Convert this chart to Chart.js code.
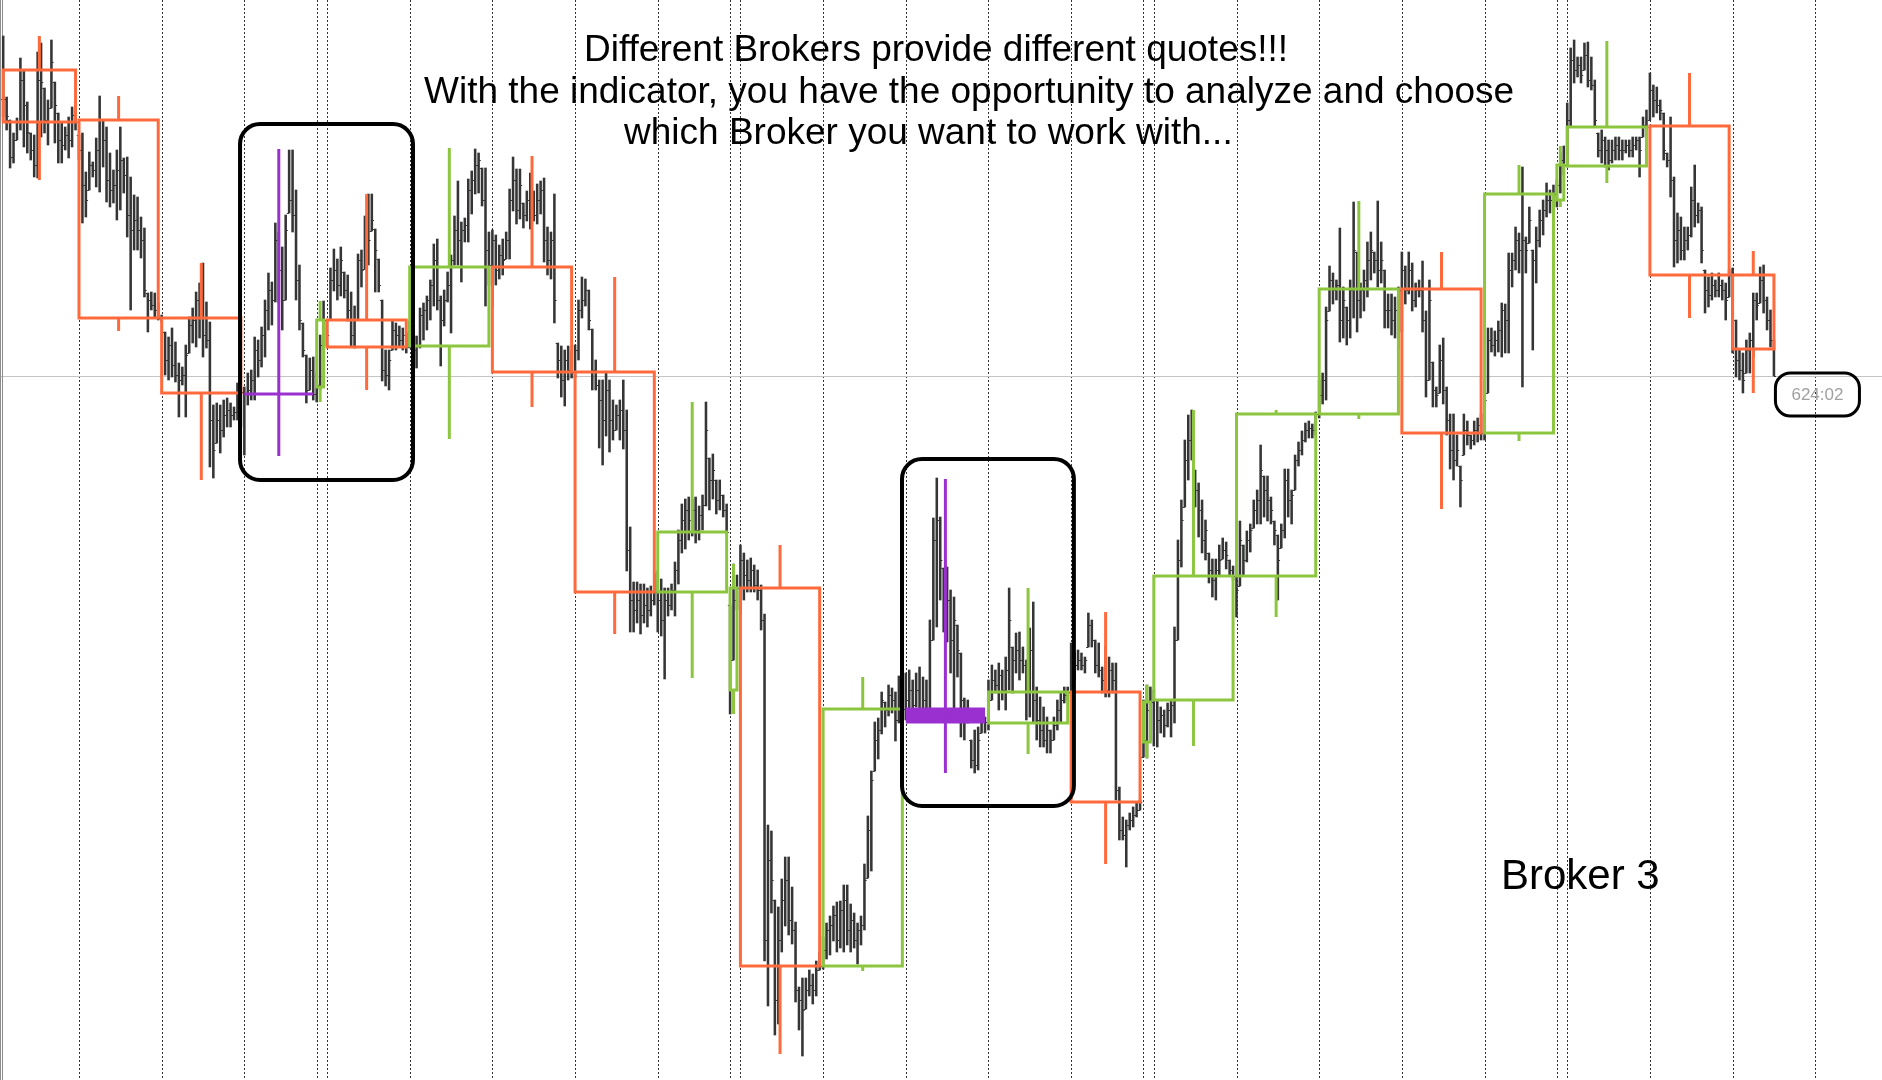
<!DOCTYPE html>
<html>
<head>
<meta charset="utf-8">
<title>Broker 3</title>
<script src="https://cdn.jsdelivr.net/npm/chart.js@4.4.1/dist/chart.umd.min.js"></script>
<style>
  html, body { margin: 0; padding: 0; background: #fff; overflow: hidden; }
  #wrap { width: 1882px; height: 1080px; }
</style>
</head>
<body>
<div id="wrap"><canvas id="chart" width="1882" height="1080"></canvas></div>
<script>
// ========================
// H1 BARS (price points, one line per day)
// ========================

const firstBar = 2;

const highs = [
  1964,1903,1880,1867,1882,1942,1930,1898,1867,1865,1948,1957,1912,1900,1960,1918,1887,1877,1873,1883,1893,1887,
  1865,1867,1828,1848,1838,1862,1904,1880,1873,1847,1830,1850,1873,1842,1843,1823,1805,1803,1783,1772,1707,1708,1707,1697,
  1685,1668,1663,1672,1658,1637,1633,1655,1683,1692,1708,1717,1737,1698,1678,1595,1597,1595,1600,1602,1597,1593,1617,1613,
  1613,1627,1630,1663,1660,1673,1700,1727,1718,1777,1768,1753,1785,1850,1850,1810,1735,1677,1645,1642,1643,
  1628,1665,1699,
  1680,1732,1751,1741,1753,1728,1725,1708,1694,1746,1750,1784,1806,1806,1771,1741,1700,1650,1650,1679,1677,1674,1672,1667,
  1679,1667,1664,1692,1697,1704,1720,1756,1761,1704,1710,1728,1745,1784,1819,1778,1782,1821,1829,1851,1847,1832,1832,1768,
  1770,1765,1755,1761,1768,1811,1843,1831,1831,1797,1809,1827,1809,1816,1819,1822,1773,1768,1806,1657,1654,1650,1654,1649,
  1655,1700,1723,1721,1710,1671,1640,1620,1620,1627,1620,1600,1595,1600,1620,1590,1473,1418,1418,1416,1416,1412,1414,1427,
  1429,1421,1412,1412,1416,1438,1470,1496,1501,1503,1501,1503,1494,1505,1598,1542,1546,1520,1520,1505,1496,
  1395,1436,1425,
  1455,1447,1440,1442,1435,1430,1415,1386,1175,1169,1100,1093,1121,1143,1143,1113,1078,1013,1022,1022,1030,1026,1039,1048,
  1063,1077,1084,1094,1098,1099,1115,1115,1096,1087,1077,1084,1136,1184,1229,1278,1282,1308,1298,1315,1312,1308,1324,1319,
  1327,1330,1320,1327,1333,1323,1320,1380,1482,1522,1483,1432,1433,1410,1403,1375,1347,1302,1300,1260,1270,1273,1287,1283,
  1320,1335,1330,1337,1330,1343,1412,1353,1367,1368,1353,1340,1372,1398,1313,1303,1293,1283,1270,1283,1300,1307,1313,1313,
  1357,1347,1350,1347,1343,1387,1380,1360,1357,1333,1353,1343,1337,1337,1213,1183,1180,1187,1193,1197,1200,
  1300,1315,1313,
  1310,1300,1293,1290,1297,1300,1373,1460,1500,1560,1585,1590,1530,1517,1500,1480,1447,1441,1441,1455,1462,1458,1440,1434,
  1424,1479,1455,1469,1476,1500,1510,1555,1524,1524,1503,1479,1465,1476,1531,1531,1510,1545,1558,1569,1577,1579,1576,1588,
  1620,1627,1693,1734,1727,1720,1772,1713,1693,1720,1798,1748,1717,1730,1758,1768,1748,1799,1758,1730,1706,1706,1703,1713,
  1748,1734,1748,1737,1717,1720,1739,1689,1720,1638,1613,1655,1662,1613,1586,1586,1565,1534,1586,1579,1565,1579,1582,1586,
  1620,1672,1672,1669,1679,1697,1696,1747,1747,1773,1767,1833,1763,1793,1750,1773,1790,1800,1817,1810,1815,
  1820,1847,1854,
  1897,1952,1960,1943,1943,1957,1958,1943,1920,1867,1870,1863,1860,1860,1863,1863,1860,1860,1860,1863,1863,1863,1883,1890,
  1927,1915,1913,1900,1887,1847,1883,1823,1787,1783,1773,1773,1813,1835,1797,1793,1730,1723,1727,1720,1727,1720,1717,1730,
  1732,1680,1650,1647,1660,1667,1707,1707,1733,1735,1703,1690,1660
];

const lows = [
  1883,1870,1832,1837,1860,1870,1853,1847,1840,1823,1822,1863,1867,1855,1892,1857,1837,1837,1850,1842,1853,1870,
  1840,1777,1783,1810,1823,1813,1808,1833,1798,1793,1797,1780,1790,1807,1763,1690,1750,1750,1742,1703,1668,1690,1683,1680,
  1678,1625,1620,1623,1618,1583,1615,1583,1647,1657,1653,1662,1643,1652,1533,1522,1557,1547,1563,1573,1573,1580,1580,1573,
  1545,1595,1600,1600,1623,1633,1643,1670,1675,1698,1697,1670,1700,1787,1768,1700,1670,1643,1597,1610,1600,
  1598,1610,1650,
  1654,1680,1709,1700,1704,1702,1679,1654,1652,1680,1713,1731,1735,1769,1708,1708,1619,1614,1610,1650,1650,1654,1650,1647,
  1652,1599,1632,1652,1660,1670,1680,1694,1690,1634,1674,1698,1667,1735,1735,1718,1758,1758,1786,1806,1807,1794,1694,1715,
  1694,1715,1721,1725,1741,1741,1789,1776,1781,1772,1779,1771,1779,1776,1786,1738,1725,1721,1677,1622,1603,1594,1620,1622,
  1622,1640,1682,1694,1670,1610,1610,1552,1535,1564,1548,1560,1570,1560,1551,1429,1368,1368,1377,1366,1377,1373,1384,1395,
  1368,1364,1321,1384,1390,1384,1416,1447,1451,1460,1464,1457,1460,1470,1494,1490,1501,1486,1490,1483,1466,
  1286,1340,1390,
  1386,1400,1408,1408,1408,1400,1370,1039,994,1087,965,976,1048,1074,1065,1056,998,970,944,991,1004,996,1004,1030,
  1031,1041,1045,1059,1048,1052,1048,1055,1048,1052,1036,1055,1070,1122,1129,1229,1241,1266,1273,1284,1287,1259,1277,1291,
  1280,1283,1283,1293,1280,1280,1278,1280,1360,1373,1400,1368,1358,1327,1283,1323,1263,1260,1277,1232,1227,1230,1267,1267,
  1270,1300,1307,1290,1300,1290,1310,1307,1327,1320,1327,1280,1283,1277,1260,1253,1253,1247,1247,1260,1270,1277,1297,1300,
  1305,1320,1330,1330,1327,1353,1353,1327,1323,1307,1303,1303,1307,1200,1160,1160,1133,1170,1173,1183,1190,
  1243,1242,1260,
  1254,1253,1267,1263,1273,1263,1277,1360,1433,1493,1520,1540,1493,1463,1447,1440,1417,1403,1400,1424,1441,1431,1424,1420,
  1383,1414,1424,1438,1448,1472,1476,1476,1483,1479,1476,1455,1400,1452,1462,1483,1476,1510,1534,1545,1558,1562,1562,1565,
  1582,1596,1600,1689,1696,1700,1658,1662,1655,1662,1682,1668,1682,1689,1703,1720,1727,1713,1717,1672,1672,1665,1662,1651,
  1668,1696,1706,1689,1693,1703,1668,1603,1620,1593,1593,1607,1596,1565,1531,1520,1534,1493,1545,1555,1551,1555,1558,1560,
  1560,1607,1648,1644,1648,1643,1647,1647,1713,1730,1727,1613,1727,1757,1650,1717,1753,1765,1783,1787,1790,
  1793,1807,1825,
  1833,1873,1917,1923,1917,1930,1913,1910,1873,1843,1837,1833,1830,1837,1840,1840,1840,1847,1843,1843,1850,1823,1863,1870,
  1880,1883,1887,1880,1840,1833,1803,1733,1737,1740,1740,1750,1763,1773,1777,1737,1687,1693,1700,1703,1703,1700,1680,1703,
  1647,1623,1620,1607,1627,1627,1643,1680,1697,1687,1670,1653,1624
];

const closes = [
  1901,1884,1843,1860,1878,1920,1895,1868,1850,1835,1920,1918,1880,1892,1938,1895,1860,1855,1865,1860,1885,1878,
  1850,1815,1800,1835,1830,1850,1880,1860,1820,1810,1815,1830,1840,1825,1785,1770,1780,1770,1760,1710,1700,1695,1690,1682,
  1682,1640,1655,1635,1625,1620,1625,1645,1675,1680,1700,1690,1665,1660,1580,1550,1580,1570,1585,1590,1585,1588,1600,1608,
  1606,1610,1620,1650,1640,1665,1690,1710,1700,1760,1730,1700,1770,1800,1785,1720,1680,1650,1610,1630,1606,
  1615,1655,1680,
  1665,1720,1730,1715,1740,1710,1690,1665,1680,1740,1730,1770,1760,1780,1750,1715,1630,1625,1640,1670,1665,1660,1665,1653,
  1660,1650,1655,1685,1690,1700,1715,1740,1700,1680,1700,1715,1740,1770,1760,1770,1775,1810,1820,1835,1840,1800,1750,1735,
  1760,1730,1745,1740,1760,1800,1820,1790,1815,1785,1800,1810,1785,1800,1810,1760,1740,1760,1700,1640,1620,1640,1630,1628,
  1650,1690,1700,1710,1680,1630,1615,1600,1580,1610,1580,1570,1585,1590,1570,1450,1400,1390,1400,1385,1395,1390,1400,1408,
  1400,1380,1400,1395,1410,1430,1460,1480,1490,1480,1490,1470,1485,1495,1570,1520,1530,1500,1505,1490,1468,
  1340,1400,1412,
  1440,1425,1420,1430,1415,1410,1380,1060,1140,1120,1000,1060,1100,1120,1080,1070,1010,1000,990,1010,1015,1010,1030,1034,
  1050,1070,1075,1085,1060,1090,1100,1070,1080,1060,1070,1075,1120,1170,1220,1260,1270,1300,1290,1305,1300,1280,1310,1291,
  1300,1310,1295,1310,1290,1300,1285,1360,1460,1480,1440,1420,1400,1360,1380,1350,1300,1280,1290,1240,1235,1260,1280,1278,
  1300,1320,1315,1325,1310,1330,1380,1340,1350,1340,1335,1310,1350,1300,1280,1270,1260,1270,1260,1275,1290,1300,1305,1308,
  1340,1335,1340,1335,1340,1375,1360,1335,1330,1320,1310,1330,1320,1210,1170,1165,1175,1180,1185,1190,1198,
  1260,1290,1298,
  1300,1280,1285,1275,1290,1295,1360,1440,1480,1540,1560,1550,1510,1490,1460,1470,1430,1420,1430,1440,1450,1445,1430,1424,
  1410,1460,1440,1460,1470,1490,1500,1530,1510,1500,1490,1470,1440,1470,1520,1500,1505,1540,1550,1560,1570,1572,1570,1586,
  1605,1620,1680,1720,1710,1715,1680,1700,1680,1710,1750,1700,1710,1720,1740,1750,1740,1730,1740,1690,1690,1680,1690,1710,
  1730,1710,1730,1700,1710,1710,1680,1620,1700,1610,1605,1640,1610,1580,1550,1540,1550,1520,1570,1565,1560,1570,1575,1567,
  1600,1660,1655,1660,1670,1690,1680,1730,1740,1760,1750,1760,1750,1780,1740,1760,1780,1790,1800,1800,1806,
  1815,1840,1835,
  1880,1940,1930,1935,1925,1945,1920,1915,1880,1850,1860,1850,1840,1850,1855,1850,1850,1855,1850,1855,1860,1850,1875,1873,
  1910,1900,1895,1890,1850,1840,1820,1760,1770,1750,1760,1765,1800,1785,1790,1750,1710,1705,1715,1710,1715,1710,1700,1725,
  1680,1640,1630,1620,1650,1660,1700,1695,1720,1700,1680,1660,1624
];

// ========================
// DAILY CANDLES (indicator)
// ========================

const dayStart = [2, 24, 48, 72, 93, 96, 120, 144, 168, 192, 213, 216, 240, 264, 288, 312, 333, 336, 360, 384, 408, 432, 453, 456, 480, 504];
const dayOpen  = [1930, 1880, 1682, 1606, 1613, 1680, 1654, 1733, 1628, 1408, 1310, 1412, 1034, 1291, 1277, 1308, 1258, 1300, 1424, 1586, 1711, 1567, 1800, 1834, 1874, 1725];
const dayHigh  = [1964, 1904, 1737, 1851, 1699, 1806, 1852, 1844, 1723, 1598, 1436, 1455, 1323, 1521, 1412, 1388, 1315, 1590, 1590, 1799, 1748, 1835, 1854, 1959, 1927, 1749];
const dayLow   = [1820, 1669, 1520, 1544, 1598, 1610, 1561, 1593, 1366, 1322, 1286, 946, 1029, 1227, 1246, 1136, 1242, 1254, 1383, 1581, 1491, 1559, 1793, 1817, 1682, 1607];
const dayClose = [1878, 1682, 1607, 1606, 1680, 1653, 1733, 1628, 1408, 1468, 1412, 1034, 1291, 1278, 1308, 1198, 1298, 1424, 1586, 1711, 1567, 1806, 1835, 1873, 1725, 1651];
const nextDayStart = 528;

const bidPrice = 1624;
const timerText = '624:02';
const titleLines = [
  'Different Brokers provide different quotes!!!',
  'With the indicator, you have the opportunity to analyze and choose',
  'which Broker you want to work with...'
];
const brokerName = 'Broker 3';

// ========================
// STYLE
// ========================

const BAR_COLOR = '#353535';
const BULL = '#8cc63f';
const BEAR = '#ff6a3d';
const DOJI = '#9b30d0';

// highlighted zones: bar from, bar to, price top, price bottom
const zones = [
  [70.75, 120.95, 1876, 1520],
  [262.9, 312.8, 1541, 1194]
];

function roundRectPath(ctx, x, y, w, h, r) {
  ctx.beginPath();
  ctx.moveTo(x + r, y);
  ctx.lineTo(x + w - r, y);
  ctx.arcTo(x + w, y, x + w, y + r, r);
  ctx.lineTo(x + w, y + h - r);
  ctx.arcTo(x + w, y + h, x + w - r, y + h, r);
  ctx.lineTo(x + r, y + h);
  ctx.arcTo(x, y + h, x, y + h - r, r);
  ctx.lineTo(x, y + r);
  ctx.arcTo(x, y, x + r, y, r);
  ctx.closePath();
}

function vline(ctx, px, y0, y1) {
  ctx.beginPath();
  ctx.moveTo(px, y0);
  ctx.lineTo(px, y1);
  ctx.stroke();
}

const overlay = {
  id: 'overlay',
  beforeDatasetsDraw(chart) {
    const { ctx, chartArea, scales: { x, y } } = chart;
    ctx.save();

    // day separators
    ctx.strokeStyle = '#333';
    ctx.lineWidth = 1;
    ctx.setLineDash([2, 2]);
    dayStart.slice(1).concat(nextDayStart).forEach(b => {
      const px = Math.round(x.getPixelForValue(b)) + 0.5;
      vline(ctx, px, chartArea.top, chartArea.bottom);
    });
    ctx.setLineDash([]);

    // bid line
    ctx.strokeStyle = '#c4c4c4';
    const by = Math.round(y.getPixelForValue(bidPrice)) + 0.5;
    ctx.beginPath();
    ctx.moveTo(chartArea.left, by);
    ctx.lineTo(chartArea.right, by);
    ctx.stroke();

    // left frame
    ctx.fillStyle = '#8c8c8c';
    ctx.fillRect(chartArea.left, chartArea.top, 1, chartArea.bottom - chartArea.top);
    ctx.fillRect(chartArea.left + 2, chartArea.top, 1, chartArea.bottom - chartArea.top);
    ctx.restore();
  },

  afterDatasetsDraw(chart) {
    const { ctx, scales: { x, y } } = chart;
    ctx.save();

    // open / close ticks of the H1 bars
    ctx.strokeStyle = BAR_COLOR;
    ctx.lineWidth = 1;
    ctx.beginPath();
    closes.forEach((c, i) => {
      const px = x.getPixelForValue(firstBar + i);
      let o = i ? closes[i - 1] : c;
      o = Math.min(highs[i], Math.max(lows[i], o));
      const oy = Math.round(y.getPixelForValue(o)) + 0.5;
      const cy = Math.round(y.getPixelForValue(c)) + 0.5;
      ctx.moveTo(px - 2.2, oy); ctx.lineTo(px, oy);
      ctx.moveTo(px, cy); ctx.lineTo(px + 2.2, cy);
    });
    ctx.stroke();

    // daily candles
    const lastBar = firstBar + highs.length - 1;
    ctx.lineWidth = 3;
    dayStart.forEach((s, i) => {
      const e = i < dayStart.length - 1 ? dayStart[i + 1] - 1 : lastBar;
      const x0 = x.getPixelForValue(s);
      const x1 = x.getPixelForValue(e);
      const xm = (x0 + x1) / 2;
      const o = dayOpen[i], c = dayClose[i], h = dayHigh[i], l = dayLow[i];
      const top = y.getPixelForValue(Math.max(o, c));
      const bot = y.getPixelForValue(Math.min(o, c));
      const hy = y.getPixelForValue(h);
      const ly = y.getPixelForValue(l);
      const doji = Math.abs(o - c) < 0.08 * (h - l);
      const col = doji ? DOJI : (c > o ? BULL : BEAR);
      ctx.strokeStyle = col;
      ctx.fillStyle = col;
      if (doji) {
        ctx.fillRect(x0, top - 1.5, x1 - x0, bot - top + 3);
        vline(ctx, xm, hy, ly);
      } else {
        ctx.strokeRect(x0, top, x1 - x0, bot - top);
        vline(ctx, xm, hy, top);
        vline(ctx, xm, bot, ly);
      }
    });

    // highlighted zones
    ctx.strokeStyle = '#000';
    ctx.lineWidth = 4;
    zones.forEach(([b0, b1, p0, p1]) => {
      const l = x.getPixelForValue(b0), r = x.getPixelForValue(b1);
      const t = y.getPixelForValue(p0), b = y.getPixelForValue(p1);
      roundRectPath(ctx, l, t, r - l, b - t, 20);
      ctx.stroke();
    });

    // timer label next to the last bar
    const lx = x.getPixelForValue(lastBar) + 1.5;
    const ly = y.getPixelForValue(bidPrice) - 3;
    ctx.lineWidth = 3;
    roundRectPath(ctx, lx, ly, 84, 43, 15);
    ctx.stroke();
    ctx.fillStyle = '#a0a0a0';
    ctx.font = '17px "Liberation Sans", Arial, sans-serif';
    ctx.textAlign = 'center';
    ctx.textBaseline = 'middle';
    ctx.fillText(timerText, lx + 42, ly + 22);
    ctx.restore();
  },

  afterDraw(chart) {
    const { ctx } = chart;
    ctx.save();
    ctx.fillStyle = '#000';
    ctx.textAlign = 'left';
    ctx.textBaseline = 'alphabetic';
    ctx.font = '37px "Liberation Sans", Arial, sans-serif';
    const lefts = [584, 424, 624];
    const bases = [61, 103, 144];
    titleLines.forEach((t, i) => ctx.fillText(t, lefts[i], bases[i]));
    ctx.font = '42px "Liberation Sans", Arial, sans-serif';
    ctx.fillText(brokerName, 1501, 889);
    ctx.restore();
  }
};

// ========================
// CHART
// ========================

new Chart(document.getElementById('chart'), {
  type: 'bar',
  data: {
    datasets: [{
      label: 'H1',
      data: highs.map((h, i) => ({ x: firstBar + i, y: [lows[i], h] })),
      backgroundColor: BAR_COLOR,
      borderWidth: 0,
      barThickness: 1.9,
      grouped: false
    }]
  },
  options: {
    responsive: false,
    animation: false,
    devicePixelRatio: 1,
    layout: { padding: 0 },
    plugins: {
      legend: { display: false },
      tooltip: { enabled: false }
    },
    scales: {
      x: { type: 'linear', min: 1.074, max: 547.37, offset: false, display: false },
      y: { min: 920, max: 2000, display: false }
    }
  },
  plugins: [overlay]
});
</script>
</body>
</html>
